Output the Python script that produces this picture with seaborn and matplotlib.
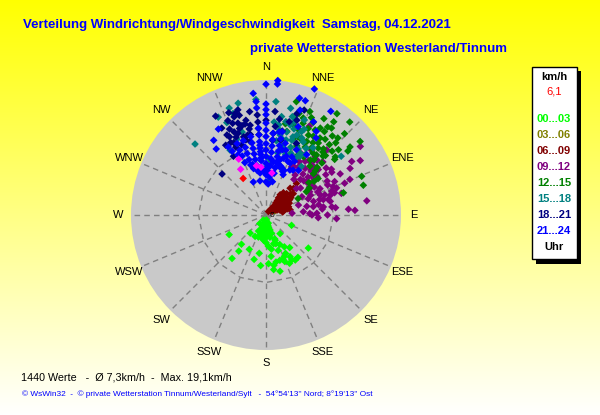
import numpy as np
import pandas as pd
import matplotlib
matplotlib.use('Agg')
import matplotlib.pyplot as plt
from matplotlib.patches import Rectangle
import seaborn as sns

# wind direction (deg) and speed (km/h) per time slot
dir_0003 = [242, 220, 217, 218, 206, 190, 195, 186, 177, 171, 173, 176, 171, 168, 166, 172, 161, 163, 159, 153,
            150, 144, 112, 128, 154, 147, 143, 150, 143, 160, 161, 178, 221, 207, 199, 216, 208, 164, 165, 184,
            198, 163, 188, 170, 180, 190, 175, 185, 200, 170, 155, 165,
            175, 182, 192, 168, 178, 186, 172, 195, 205, 160, 180, 188, 176, 170, 184, 158, 150, 156]
spd_0003 = [5.9, 5.4, 6.4, 7.8, 5.4, 5.5, 6.5, 7.2, 6.9, 4.9, 5.9, 4.4, 7.2, 6.8, 8.2, 7.8, 5.3, 6.7, 6.7, 6.1,
            5.2, 5.7, 3.9, 7.6, 7.6, 7.6, 7.5, 6.8, 3.3, 3.8, 4.3, 3.1, 3.4, 3.4, 3.3, 1.5, 0.8, 1.2, 2.2, 1.9,
            2.0, 2.7, 2.6, 1.5, 1.2, 1.6, 2.9, 3.6, 2.4, 3.2, 4.6, 4.2,
            0.7, 1.0, 1.3, 1.8, 2.3, 2.9, 2.5, 2.7, 2.5, 3.6, 3.9, 3.4, 1.7, 2.2, 1.6, 7.1, 7.3, 6.4]

dir_0306 = [45, 55, 60, 50, 65, 40]
spd_0306 = [1.2, 1.6, 2.2, 2.6, 1.4, 0.9]

dir_0609 = [35, 44, 42, 44, 56, 47, 41, 35, 70, 78, 53, 65, 61, 50, 58, 48, 38, 62, 72, 66, 52, 45, 40, 55, 60,
            68, 75, 80, 50, 45, 58, 64, 48, 42, 38, 54,
            46, 52, 57, 63, 70, 74, 43, 39, 36, 49, 55, 60, 66, 71]
spd_0609 = [3.5, 4.2, 5.1, 6.2, 3.0, 2.4, 1.6, 0.6, 3.4, 3.5, 3.9, 2.2, 1.5, 3.4, 3.6, 3.0, 2.6, 2.8, 2.9, 2.4,
            2.0, 1.9, 1.2, 4.3, 3.2, 3.0, 2.7, 2.4, 4.6, 3.6, 2.5, 1.9, 1.5, 2.9, 4.0, 1.1,
            5.4, 4.9, 4.0, 3.7, 2.6, 3.1, 2.0, 2.2, 3.0, 1.8, 1.4, 1.0, 1.7, 2.1]

dir_0912 = [82, 58, 60, 54, 61, 61, 67, 68, 64, 61, 49, 44, 40, 30, 54, 64, 73, 83, 82, 74, 78, 88, 93, 86, 93, 86,
            87, 85, 73, 49, 63, 62, 74, 71, 69, 57, 70, 36, 44, 51, 69, 74, 38, 43, 26, 43, 28, 34, 57, 80, 88,
            52, 47, 56, 66, 78, 58, 48, 40, 35, 30, 45, 64, 72, 76, 84, 55, 50,
            38, 42, 46, 52, 32, 36, 41, 48, 54, 60, 66, 70, 75, 79, 84, 90, 90, 67, 59, 53]
spd_0912 = [14.4, 14.3, 15.4, 16.5, 13.6, 12.0, 12.9, 12.0, 10.8, 9.9, 9.8, 9.6, 8.6, 7.9, 8.5, 8.5, 9.5, 9.4, 8.2,
            7.0, 5.9, 7.2, 7.4, 3.7, 10.0, 11.7, 12.6, 5.3, 4.8, 5.7, 5.7, 7.0, 7.9, 8.8, 6.4, 7.4, 9.9, 7.0, 7.0,
            7.4, 10.7, 11.1, 9.8, 10.6, 14.0, 12.6, 7.7, 8.2, 11.1, 6.8, 6.2,
            10.8, 11.0, 10.2, 6.9, 9.3, 7.6, 8.0, 10.8, 11.2, 10.0, 9.0, 9.7, 10.2, 9.1, 9.9, 11.3, 8.5,
            6.4, 7.8, 8.9, 6.2, 8.9, 9.4, 9.9, 7.2, 7.7, 7.9, 8.0, 8.2, 8.4, 7.6, 8.0, 6.5, 8.7, 10.3, 7.0, 9.0]

dir_1215 = [15, 23, 31, 35, 42, 36, 52, 51, 44, 43, 37, 35, 35, 12, 17, 21, 21, 28, 30, 40, 44, 47, 51, 48, 52, 42, 41,
            68, 73, 74, 50, 39, 49, 63, 55, 25, 33, 38, 30, 22, 18, 27, 46, 40, 35, 32, 45, 55, 60, 42, 28, 24,
            26, 31, 38, 44, 36, 29, 34, 41, 48, 58, 53, 47, 33, 22, 16, 14, 20, 25, 42, 37]
spd_1215 = [16.6, 15.9, 15.9, 17.5, 17.7, 16.3, 16.9, 15.3, 16.0, 14.9, 15.4, 14.4, 13.3, 13.2, 13.3, 12.9, 14.7,
            12.8, 11.1, 11.1, 11.6, 10.8, 12.5, 13.8, 14.7, 13.4, 12.4, 14.6, 14.4, 11.4, 12.8, 10.0, 8.9, 5.1, 9.0,
            11.8, 12.2, 12.0, 13.9, 14.0, 15.1, 14.7, 13.0, 14.6, 15.2, 14.5, 11.9, 8.3, 6.6, 9.3, 9.6, 10.7,
            13.6, 13.0, 13.6, 14.2, 12.6, 11.9, 11.4, 10.4, 9.4, 7.2, 7.6, 9.9, 9.8, 12.0, 14.4, 12.2, 11.6, 15.2,
            12.0, 11.0]

dir_1518 = [315, 346, 341, 334, 5, 355, 331, 339, 342, 8, 9, 13, 15, 14, 19, 23, 27, 31, 30, 15, 10, 35, 52, 36, 6, 15,
            22, 1, 23, 12, 18, 26, 20, 16, 8, 28, 25, 33, 11, 344, 337, 3, 6,
            17, 21, 24, 13, 9, 5, 18, 22, 29, 12, 26, 19]
spd_1518 = [14.2, 16.3, 16.0, 15.4, 16.1, 16.4, 10.5, 11.5, 15.1, 12.9, 14.1, 15.5, 14.4, 12.1, 11.7, 12.8, 11.6,
            11.0, 9.6, 11.0, 11.5, 11.6, 13.5, 8.5, 5.0, 13.2, 14.5, 6.8, 11.0, 13.5, 12.8, 10.4, 10.2, 9.5, 10.6,
            9.3, 12.0, 10.2, 8.9, 12.2, 14.2, 8.0, 7.6,
            13.8, 12.1, 13.3, 10.0, 12.2, 13.2, 9.0, 9.4, 10.0, 11.0, 9.0, 11.2]

dir_1821 = [345, 343, 345, 333, 338, 340, 348, 350, 343, 347, 334, 335, 339, 344, 348, 341, 336, 331, 313, 5, 6, 18, 20,
            17, 355, 355, 355, 355, 0, 5, 5, 11, 349, 343, 339, 334, 11, 345, 351,
            337, 341, 333, 347, 342, 336, 330, 345, 340, 349, 14, 23, 8]
spd_1821 = [15.4, 15.0, 14.6, 15.7, 14.4, 13.8, 13.7, 12.9, 12.8, 11.6, 12.6, 12.2, 11.8, 11.5, 10.6, 10.5, 10.5, 9.5,
            8.5, 14.7, 12.6, 14.1, 15.8, 15.0, 14.2, 13.2, 12.3, 11.4, 13.4, 11.6, 10.6, 12.1, 12.4, 13.6, 12.6,
            11.4, 10.8, 13.1, 14.8,
            13.2, 12.2, 13.8, 13.2, 14.6, 11.2, 11.4, 11.0, 15.4, 11.6, 13.6, 11.0, 13.7]

dir_2124 = [0, 5, 5, 21, 354, 32, 16, 19, 18, 27, 33, 31, 20,
            355, 355, 355, 355, 355, 355, 355, 355, 355, 355,
            0, 0, 0, 0, 0, 0, 0, 0, 0, 0, 0, 0,
            5, 5, 5, 5, 5, 5, 5,
            11, 11, 11, 11, 11, 11, 11,
            349, 349, 349, 349, 349, 349, 349,
            343, 343, 343, 343, 343, 338, 338, 338, 338,
            331, 325, 323, 331, 339, 350, 4, 11, 23, 31, 36, 25, 19, 14, 15, 25, 34, 14, 17, 21, 28, 9, 345, 352, 357,
            355, 355, 0, 5, 11, 17, 17, 17, 22, 22, 28, 335, 332, 345, 352, 3, 8, 14, 19, 24]
spd_2124 = [18.5, 18.6, 19.1, 19.1, 17.3, 17.3, 17.2, 17.1, 15.6, 14.8, 13.0, 13.8, 13.3,
            16.1, 15.2, 10.4, 9.9, 9.5, 9.0, 8.6, 8.1, 7.7, 6.7,
            15.7, 14.9, 14.2, 12.0, 11.1, 10.1, 9.2, 8.3, 7.3, 6.4, 5.7, 4.7,
            10.7, 9.8, 8.9, 8.0, 7.0, 6.0, 5.4,
            11.0, 10.0, 9.2, 8.4, 7.6, 6.8, 6.0,
            11.3, 10.4, 9.6, 8.8, 8.0, 7.2, 6.4,
            11.0, 10.0, 9.1, 8.2, 7.4, 10.9, 9.9, 9.0, 8.0,
            13.9, 12.9, 11.7, 11.0, 5.0, 4.9, 4.4, 4.8, 6.2, 7.4, 7.8, 8.1, 8.8, 9.5, 10.5, 10.2, 10.3, 8.0, 7.0, 6.6,
            7.2, 11.9, 6.8, 6.0, 6.2,
            11.4, 12.3, 13.0, 11.6, 12.0, 9.6, 8.4, 7.2, 8.2, 6.8, 8.6, 9.4, 10.2, 7.4, 6.6, 6.8, 7.6, 7.4, 7.0, 9.0]

dir_recent = [334, 331, 349, 354, 8]
spd_recent = [8.8, 7.4, 7.1, 6.8, 6.0]
dir_current = [328]
spd_current = [6.1]

slots = ['00...03', '03...06', '06...09', '09...12', '12...15', '15...18', '18...21', '21...24']
slot_colors = ['#00ff00', '#808000', '#800000', '#800080', '#008000', '#008080', '#000080', '#0000ff']
compass = ['N', 'NNE', 'NE', 'ENE', 'E', 'ESE', 'SE', 'SSE', 'S', 'SSW', 'SW', 'WSW', 'W', 'WNW', 'NW', 'NNW']
max_speed = 19.1

all_dirs = [dir_0003, dir_0306, dir_0609, dir_0912, dir_1215, dir_1518, dir_1821, dir_2124, dir_recent, dir_current]
all_spds = [spd_0003, spd_0306, spd_0609, spd_0912, spd_1215, spd_1518, spd_1821, spd_2124, spd_recent, spd_current]
levels = slots + ['zuletzt', 'aktuell']
palette = dict(zip(levels, slot_colors + ['#ff00ff', '#ff0000']))

frames = []
for level, d, s in zip(levels, all_dirs, all_spds):
    frames.append(pd.DataFrame({'theta': np.radians(d), 'speed': s, 'slot': level}))
data = pd.concat(frames, ignore_index=True)

sns.set_style('white')
plt.rcParams['font.family'] = ['Liberation Sans', 'DejaVu Sans']

fig = plt.figure(figsize=(6, 4.15), dpi=100)

# background in pixel coordinates: gradient, headings, legend box
bg = fig.add_axes([0, 0, 1, 1])
bg.set_xlim(0, 600)
bg.set_ylim(415, 0)
bg.axis('off')
fade = np.ones((415, 1, 3))
fade[:, 0, 2] = np.linspace(0, 1, 415)
bg.imshow(fade, extent=(0, 600, 415, 0), aspect='auto', zorder=0)

bg.text(23, 25, 'Verteilung Windrichtung/Windgeschwindigkeit  Samstag, 04.12.2021', color='#0000ff',
        fontsize=9.58, fontweight='bold', va='center')
bg.text(250, 49, 'private Wetterstation Westerland/Tinnum', color='#0000ff',
        fontsize=9.58, fontweight='bold', va='center')
bg.text(21, 377, '1440 Werte   -  Ø 7,3km/h  -  Max. 19,1km/h', color='black', fontsize=7.75, va='center')
bg.text(22, 394, "© WsWin32  -  © private Wetterstation Tinnum/Westerland/Sylt   -  54°54'13'' Nord; 8°19'13'' Ost",
        color='#0000ff', fontsize=5.95, va='center')

bg.add_patch(Rectangle((536, 71), 45, 193, facecolor='black', edgecolor='none', zorder=2))
bg.add_patch(Rectangle((532, 67), 45, 192, facecolor='white', edgecolor='black', linewidth=1, zorder=3))
bg.text(554, 77, 'km/h', color='black', fontsize=8, fontweight='bold', ha='center', va='center', zorder=4)
bg.text(554, 92, '6,1', color='#ff0000', fontsize=8, ha='center', va='center', zorder=4)
for i, (slot, col) in enumerate(zip(slots, slot_colors)):
    bg.text(554, 119 + i * 16, slot, color=col, fontsize=8, fontweight='bold', ha='center', va='center', zorder=4)
bg.text(554, 247, 'Uhr', color='black', fontsize=8, fontweight='bold', ha='center', va='center', zorder=4)

# polar plot, centre (266, 215), radius 135 px
ax = fig.add_axes([131 / 600, 65 / 415, 270 / 600, 270 / 415], projection='polar')
ax.set_theta_zero_location('N')
ax.set_theta_direction(-1)
ax.set_facecolor('#c9c9c9')
ax.spines['polar'].set_visible(False)

sns.scatterplot(data=data, x='theta', y='speed', hue='slot', hue_order=levels, palette=palette,
                marker='D', s=15, linewidth=0, legend=False, ax=ax, zorder=3, clip_on=False)

spokes = np.radians(np.arange(0, 360, 22.5))
ring = np.append(spokes, spokes[0])
ax.plot(ring, np.full(17, max_speed / 2), color='#808080', linewidth=1, linestyle=(0, (4, 3)), zorder=2)
ax.set_xticks(spokes)
ax.set_xticklabels([])
ax.set_yticks([])
ax.set_ylim(0, max_speed)
ax.xaxis.grid(True, color='#808080', linewidth=1, linestyle=(0, (4, 3)))
ax.set_axisbelow(True)
ax.set_xlabel('')
ax.set_ylabel('')
for angle, name in zip(spokes, compass):
    ax.text(angle, max_speed * 1.095, name, fontsize=8, color='black', ha='center', va='center', clip_on=False)
ax.text(np.radians(90), 0.9, '0', fontsize=6, color='black', ha='center', va='center', zorder=4)

fig.savefig('out.png', dpi=100)
